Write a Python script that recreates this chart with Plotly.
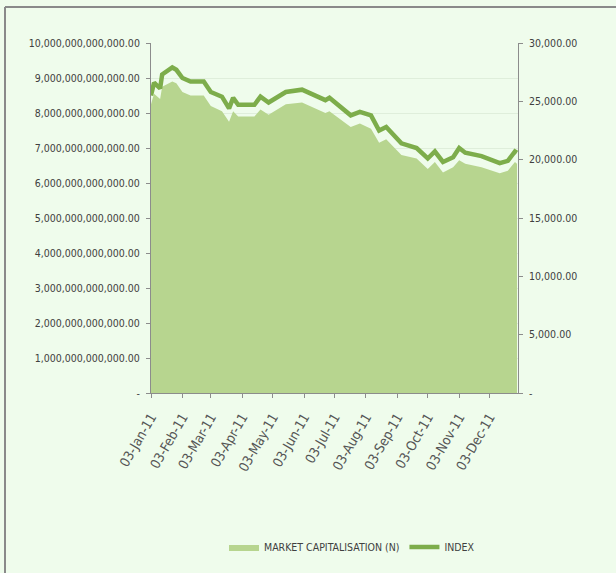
import plotly.graph_objects as go

dates = ["2011-01-03", "2011-01-06", "2011-01-12", "2011-01-14", "2011-01-24", "2011-01-28",
         "2011-02-03", "2011-02-11", "2011-02-24", "2011-03-03", "2011-03-14", "2011-03-21",
         "2011-03-25", "2011-03-30", "2011-04-15", "2011-04-21", "2011-04-29", "2011-05-16",
         "2011-06-01", "2011-06-24", "2011-06-28", "2011-07-19", "2011-07-28", "2011-08-08",
         "2011-08-16", "2011-08-23", "2011-09-07", "2011-09-22", "2011-10-03", "2011-10-10",
         "2011-10-18", "2011-10-28", "2011-11-03", "2011-11-09", "2011-11-25", "2011-12-13",
         "2011-12-21", "2011-12-28", "2011-12-30"]

market_cap_trn = [8.25, 8.55, 8.40, 8.75, 8.90, 8.85,
                  8.60, 8.50, 8.50, 8.20, 8.05, 7.75,
                  8.05, 7.90, 7.90, 8.10, 7.95, 8.25,
                  8.30, 8.00, 8.05, 7.60, 7.70, 7.55,
                  7.15, 7.25, 6.80, 6.70, 6.40, 6.60,
                  6.30, 6.45, 6.65, 6.55, 6.45, 6.28,
                  6.35, 6.60, 6.55]

index_vals = [25500, 26600, 26100, 27300, 27900, 27700,
              27000, 26700, 26700, 25800, 25400, 24400,
              25300, 24700, 24700, 25400, 24900, 25800,
              26000, 25100, 25300, 23800, 24100, 23800,
              22500, 22800, 21400, 21000, 20100, 20700,
              19800, 20200, 21000, 20600, 20300, 19700,
              19900, 20700, 20600]

month_ticks = ["2011-01-03", "2011-02-03", "2011-03-03", "2011-04-03", "2011-05-03", "2011-06-03",
               "2011-07-03", "2011-08-03", "2011-09-03", "2011-10-03", "2011-11-03", "2011-12-03"]
month_labels = ["03-Jan-11", "03-Feb-11", "03-Mar-11", "03-Apr-11", "03-May-11", "03-Jun-11",
                "03-Jul-11", "03-Aug-11", "03-Sep-11", "03-Oct-11", "03-Nov-11", "03-Dec-11"]

left_ticks = [i * 1e12 for i in range(11)]
left_labels = ["-"] + [f"{i:,},000,000,000,000.00" for i in range(1, 11)]
right_ticks = [0, 5000, 10000, 15000, 20000, 25000, 30000]
right_labels = ["-", "5,000.00", "10,000.00", "15,000.00", "20,000.00", "25,000.00", "30,000.00"]

market_cap = [v * 1e12 for v in market_cap_trn]

FONT = "DejaVu Sans Condensed, Liberation Sans Narrow, sans-serif"
BG = "#effcec"
TXT = "#404040"

fig = go.Figure()
fig.add_trace(go.Scatter(x=dates, y=market_cap, name="MARKET CAPITALISATION (N)",
                         mode="lines", line=dict(width=0, color="#b7d58f"),
                         fill="tozeroy", fillcolor="#b7d58f", yaxis="y"))
fig.add_trace(go.Scatter(x=dates, y=index_vals, name="INDEX", mode="lines",
                         line=dict(width=4.5, color="#7dad4b"), yaxis="y2"))

W, H = 616, 573
L, R, T, B = 151, 98, 43, 180
pw, ph = W - L - R, H - T - B


def px(xp):
    return (xp - L) / pw


def py(yp):
    return (H - B - yp) / ph


fig.update_layout(
    width=W, height=H,
    margin=dict(l=L, r=R, t=T, b=B, autoexpand=False),
    paper_bgcolor=BG, plot_bgcolor=BG,
    font=dict(family=FONT, size=10.5, color=TXT),
    showlegend=True,
    legend=dict(orientation="h", x=px(352), xanchor="center", y=py(547), yanchor="middle",
                font=dict(size=10.5, color=TXT), bgcolor="rgba(0,0,0,0)",
                itemwidth=30, traceorder="normal"),
    xaxis=dict(type="date", range=["2011-01-03", "2011-12-31"], automargin=False,
               tickvals=month_ticks, ticktext=month_labels, tickangle=-60,
               showgrid=False, showline=True, linecolor="#8c8c8c", linewidth=1,
               ticks="outside", ticklen=4, tickcolor="#8c8c8c", ticklabelstandoff=6,
               tickfont=dict(size=13.5, color="#555555"), zeroline=False),
    yaxis=dict(range=[0, 1e13], tickvals=left_ticks, ticktext=left_labels, automargin=False,
               showgrid=True, gridcolor="#dfeedb", gridwidth=1,
               showline=True, linecolor="#8c8c8c", linewidth=1,
               ticks="outside", ticklen=4, tickcolor="#8c8c8c", ticklabelstandoff=4,
               tickfont=dict(size=10.5, color=TXT), zeroline=False),
    yaxis2=dict(range=[0, 30000], overlaying="y", side="right", automargin=False,
                tickvals=right_ticks, ticktext=right_labels, showgrid=False,
                showline=True, linecolor="#8c8c8c", linewidth=1,
                ticks="outside", ticklen=4, tickcolor="#8c8c8c", ticklabelstandoff=4,
                tickfont=dict(size=10.5, color=TXT), zeroline=False),
    shapes=[
        dict(type="line", xref="paper", yref="paper",
             x0=px(5), x1=px(620), y0=py(7), y1=py(7),
             line=dict(color="#8a8a8a", width=2), layer="below"),
        dict(type="line", xref="paper", yref="paper",
             x0=px(5), x1=px(5), y0=py(7), y1=py(580),
             line=dict(color="#8a8a8a", width=2), layer="below"),
    ],
)

fig.write_html("out.html", config={"displayModeBar": False},
               post_script="document.body.style.margin='0px';"
                           "document.body.style.background='#effcec';")
